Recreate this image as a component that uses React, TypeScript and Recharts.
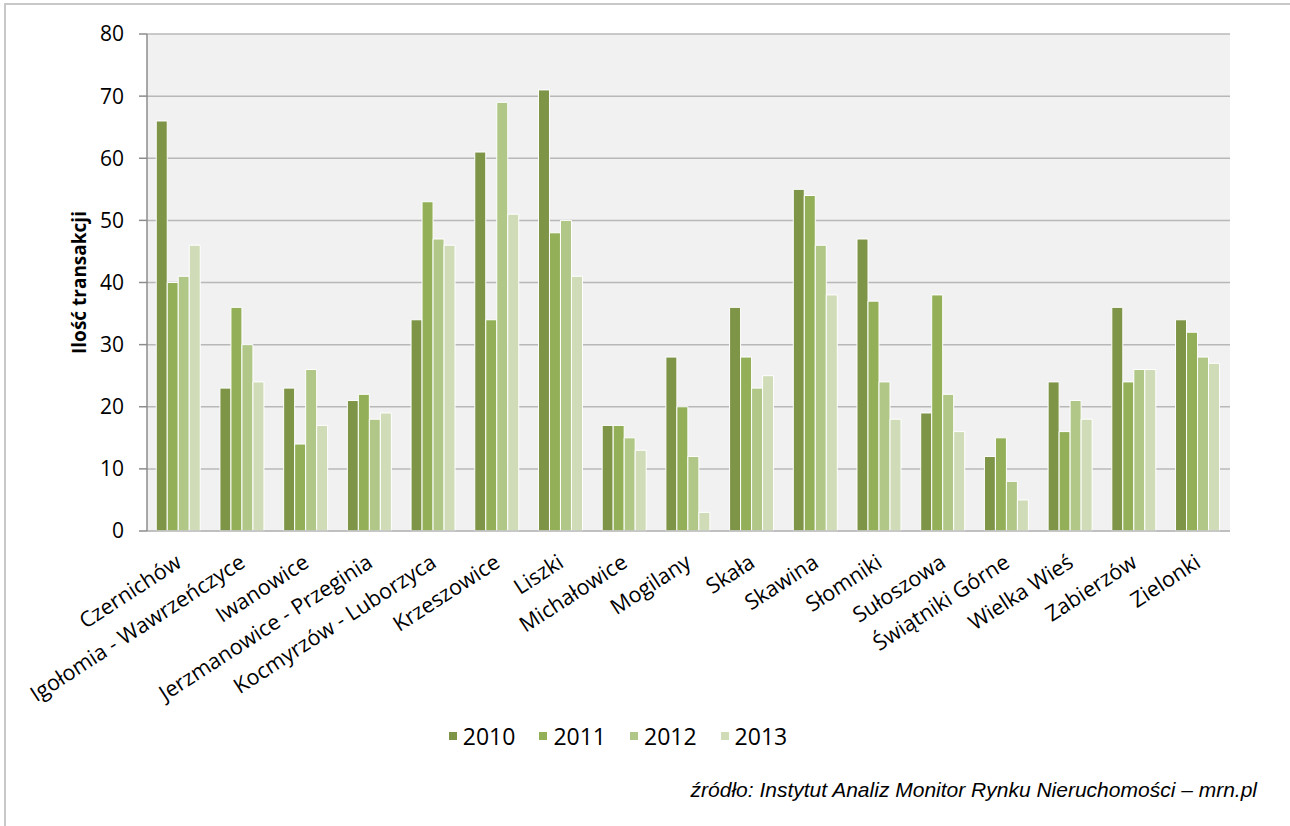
import React from "react";
import { BarChart, Bar, XAxis, YAxis, CartesianGrid, Legend } from "recharts";

const gminy = [
  "Czernichów",
  "Igołomia - Wawrzeńczyce",
  "Iwanowice",
  "Jerzmanowice - Przeginia",
  "Kocmyrzów - Luborzyca",
  "Krzeszowice",
  "Liszki",
  "Michałowice",
  "Mogilany",
  "Skała",
  "Skawina",
  "Słomniki",
  "Sułoszowa",
  "Świątniki Górne",
  "Wielka Wieś",
  "Zabierzów",
  "Zielonki",
];

const y2010 = [66, 23, 23, 21, 34, 61, 71, 17, 28, 36, 55, 47, 19, 12, 24, 36, 34];
const y2011 = [40, 36, 14, 22, 53, 34, 48, 17, 20, 28, 54, 37, 38, 15, 16, 24, 32];
const y2012 = [41, 30, 26, 18, 47, 69, 50, 15, 12, 23, 46, 24, 22, 8, 21, 26, 28];
const y2013 = [46, 24, 17, 19, 46, 51, 41, 13, 3, 25, 38, 18, 16, 5, 18, 26, 27];

const years = ["2010", "2011", "2012", "2013"];
const colors = ["#7e9447", "#93b058", "#b0c788", "#cfdcb7"];
const yTicks = [0, 10, 20, 30, 40, 50, 60, 70, 80];

const data = gminy.map((name, i) => ({
  name,
  "2010": y2010[i],
  "2011": y2011[i],
  "2012": y2012[i],
  "2013": y2013[i],
}));

const labelFont = "'Open Sans', sans-serif";

// rotated category label, anchored at its end under the tick
function SlantTick({ x = 0, y = 0, payload }: { x?: number; y?: number; payload?: { value?: string } }) {
  return (
    <g transform={`translate(${x + 4},${y + 27})`}>
      <text
        x={0}
        y={0}
        textAnchor="end"
        transform="rotate(-33)"
        fill="#000"
        fontSize={21.5}
        fontFamily={labelFont}
      >
        {payload?.value}
      </text>
    </g>
  );
}

function LegendRow() {
  return (
    <div style={{ display: "flex", justifyContent: "center", fontFamily: labelFont, fontSize: 23 }}>
      {years.map((yr, i) => (
        <div key={yr} style={{ display: "flex", alignItems: "center", marginRight: i < 3 ? 24 : 0 }}>
          <span style={{ width: 8, height: 8, background: colors[i], marginRight: 6, display: "inline-block" }} />
          <span>{yr}</span>
        </div>
      ))}
    </div>
  );
}

export default function App() {
  return (
    <div style={{ position: "fixed", left: 0, top: 0, width: 1290, height: 826, background: "#fff" }}>
      <div
        style={{
          position: "absolute",
          left: 4,
          top: 3,
          right: 0,
          bottom: 0,
          borderTop: "2px solid #c8c8c8",
          borderLeft: "2px solid #c8c8c8",
        }}
      />
      <BarChart
        width={1290}
        height={826}
        data={data}
        margin={{ top: 34, right: 60, left: 0, bottom: 0 }}
        barCategoryGap="14.5%"
        barGap={0}
      >
        <CartesianGrid vertical={false} stroke="#b8b8b8" strokeWidth={1.5} fill="#f1f1f1" />
        <XAxis
          dataKey="name"
          interval={0}
          height={295}
          tickLine={false}
          axisLine={{ stroke: "#bdbdbd", strokeWidth: 1.5 }}
          tick={SlantTick}
        />
        <YAxis
          width={147}
          domain={[0, 80]}
          ticks={yTicks}
          interval={0}
          tickSize={8}
          tickMargin={15}
          tickLine={{ stroke: "#8c8c8c", strokeWidth: 1.5 }}
          axisLine={{ stroke: "#8c8c8c", strokeWidth: 1.5 }}
          tick={{ fill: "#000", fontSize: 21, fontFamily: labelFont }}
          label={{
            value: "Ilość transakcji",
            angle: -90,
            position: "insideLeft",
            offset: 79,
            style: { fontFamily: labelFont, fontSize: 19, fontWeight: 700, fill: "#000", textAnchor: "middle" },
          }}
        />
        <Legend
          layout="horizontal"
          verticalAlign="middle"
          align="center"
          wrapperStyle={{ top: 720, left: 0, width: 1236 }}
          content={<LegendRow />}
        />
        {years.map((yr, i) => (
          <Bar
            key={yr}
            dataKey={yr}
            fill={colors[i]}
            stroke="#ffffff"
            strokeWidth={1}
            isAnimationActive={false}
          />
        ))}
      </BarChart>
      <div
        style={{
          position: "absolute",
          right: 33,
          top: 778,
          fontFamily: "'Liberation Sans', Arial, sans-serif",
          fontStyle: "italic",
          fontSize: 21,
          color: "#000",
        }}
      >
        źródło: Instytut Analiz Monitor Rynku Nieruchomości – mrn.pl
      </div>
    </div>
  );
}
